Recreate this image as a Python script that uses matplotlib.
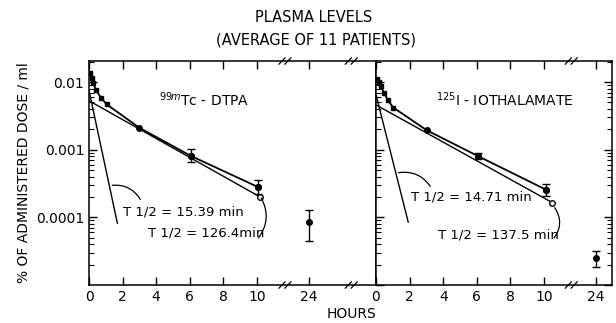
import numpy as np
import matplotlib.pyplot as plt

plt.rcParams['font.family'] = ['DejaVu Sans']
plt.rcParams['mathtext.fontset'] = 'dejavusans'

# hours -> position on the broken axis (24 h is drawn right after the break)
T24 = 13.1

# 99mTc-DTPA
tc_t = [0.06, 0.16, 0.26, 0.42, 0.71, 1.05, 3.0, 6.07, 10.08]
tc_y = [0.0135, 0.0113, 0.0096, 0.0076, 0.0059, 0.0047, 0.00211, 0.00081, 0.00028]
tc_err_t = [6.07, 10.08, 24]
tc_err_y = [0.00081, 0.00028, 8.5e-5]
tc_err_lo = [0.00066, 0.00022, 4.4e-5]
tc_err_hi = [0.00104, 0.00036, 0.000127]
tc_fast_t = [0, 1.69]
tc_fast_y = [0.0075, 8.2e-5]
tc_slow_t = [0, 10.2]
tc_slow_y = [0.0053, 0.0002]

# 125I-iothalamate
io_t = [0.08, 0.18, 0.28, 0.5, 0.71, 1.03, 3.02, 6.05, 10.1]
io_y = [0.0111, 0.0099, 0.0087, 0.0068, 0.0054, 0.0042, 0.00194, 0.00081, 0.000258]
io_err_t = [6.05, 10.1, 24]
io_err_y = [0.00081, 0.000258, 2.5e-5]
io_err_lo = [0.00072, 0.00021, 1.87e-5]
io_err_hi = [0.00089, 0.00031, 3.2e-5]
io_fast_t = [0, 1.92]
io_fast_y = [0.0065, 8.5e-5]
io_slow_t = [0, 10.5]
io_slow_y = [0.0046, 0.000165]

xticks = [0, 2, 4, 6, 8, 10, 24]


def xpos(t):
    return np.array([T24 if v > 10.5 else v for v in t])


def breakmark(ax, x):
    tr = ax.get_xaxis_transform()
    for y in (0, 1):
        for dx in (-0.25, 0.1):
            ax.plot([x + dx - 0.18, x + dx + 0.18], [y - 0.014, y + 0.014],
                    color='k', lw=0.9, transform=tr, clip_on=False)


def panel(ax, t, y, et, ey, elo, ehi, ft, fy, st, sy):
    ax.set_yscale('log')
    ax.plot(t, y, color='k', lw=1.3)
    ax.plot(ft, fy, color='k', lw=1.0)
    ax.plot(st, sy, color='k', lw=1.0)
    ax.plot(t[:6], y[:6], 's', color='k', ms=3.5)
    ax.plot(t[6:], y[6:], 'o', color='k', ms=4)
    ey = np.array(ey)
    ax.errorbar(xpos(et), ey, yerr=[ey - np.array(elo), np.array(ehi) - ey],
                fmt='o', color='k', ms=4, capsize=3, lw=1, capthick=1)
    ax.plot(st[-1], sy[-1], 'o', mfc='white', mec='k', ms=4)
    ax.set_ylim(1e-5, 0.0205)
    ax.set_xticks(xpos(xticks))
    ax.set_xticklabels([str(v) for v in xticks], fontsize=10)
    ax.tick_params(which='both', direction='in', top=True)
    ax.tick_params(which='major', length=6, width=1)
    ax.tick_params(which='minor', length=3.5, width=0.8)
    for s in ax.spines.values():
        s.set_linewidth(1.1)


fig = plt.figure(figsize=(6.16, 3.23), dpi=100)
ax1 = fig.add_axes([89 / 616, 38 / 323, 287 / 616, 224 / 323])
ax2 = fig.add_axes([376 / 616, 38 / 323, 236 / 616, 224 / 323])

panel(ax1, tc_t, tc_y, tc_err_t, tc_err_y, tc_err_lo, tc_err_hi,
      tc_fast_t, tc_fast_y, tc_slow_t, tc_slow_y)
panel(ax2, io_t, io_y, io_err_t, io_err_y, io_err_lo, io_err_hi,
      io_fast_t, io_fast_y, io_slow_t, io_slow_y)

ax1.set_xlim(0, 17.1)
ax2.set_xlim(0, 14.05)
ax1.tick_params(which='both', right=False)
ax2.tick_params(which='both', right=True, labelleft=False)

ax1.set_yticks([0.01, 0.001, 0.0001])
ax1.set_yticklabels(['0.01', '0.001', '0.0001'], fontsize=10)
ax1.set_ylabel('% OF ADMINISTERED DOSE / ml', fontsize=10, labelpad=4)

breakmark(ax1, 11.75)
breakmark(ax1, 15.7)
breakmark(ax2, 11.7)

ax1.text(4.2, 0.0054, r'$^{99m}$Tc - DTPA', fontsize=10, va='center')
ax2.text(3.6, 0.0054, r'$^{125}$I - IOTHALAMATE', fontsize=10, va='center')

ax1.text(2.0, 1.19e-4, 'T 1/2 = 15.39 min', fontsize=9.5, va='center')
ax1.text(3.5, 5.8e-5, 'T 1/2 = 126.4min', fontsize=9.5, va='center')
ax2.text(2.1, 2.0e-4, 'T 1/2 = 14.71 min', fontsize=9.5, va='center')
ax2.text(3.7, 5.4e-5, 'T 1/2 = 137.5 min', fontsize=9.5, va='center')

arc = dict(arrowstyle='-', color='k', lw=0.9)
ax1.annotate('', xy=(1.22, 2.95e-4), xytext=(3.14, 1.7e-4),
             arrowprops=dict(arc, connectionstyle='arc3,rad=0.35'))
ax1.annotate('', xy=(10.18, 2.1e-4), xytext=(10.0, 4.6e-5),
             arrowprops=dict(arc, connectionstyle='arc3,rad=0.35'))
ax2.annotate('', xy=(1.18, 4.5e-4), xytext=(3.32, 2.66e-4),
             arrowprops=dict(arc, connectionstyle='arc3,rad=0.35'))
ax2.annotate('', xy=(10.54, 1.5e-4), xytext=(10.5, 4.6e-5),
             arrowprops=dict(arc, connectionstyle='arc3,rad=0.4'))

fig.text(314 / 616, 1 - 18 / 323, 'PLASMA LEVELS', ha='center', va='center', fontsize=10.5)
fig.text(316 / 616, 1 - 40 / 323, '(AVERAGE OF 11 PATIENTS)', ha='center', va='center', fontsize=10.5)
fig.text(351 / 616, 1 - 314 / 323, 'HOURS', ha='center', va='center', fontsize=10)

fig.savefig('out.png', dpi=100)
